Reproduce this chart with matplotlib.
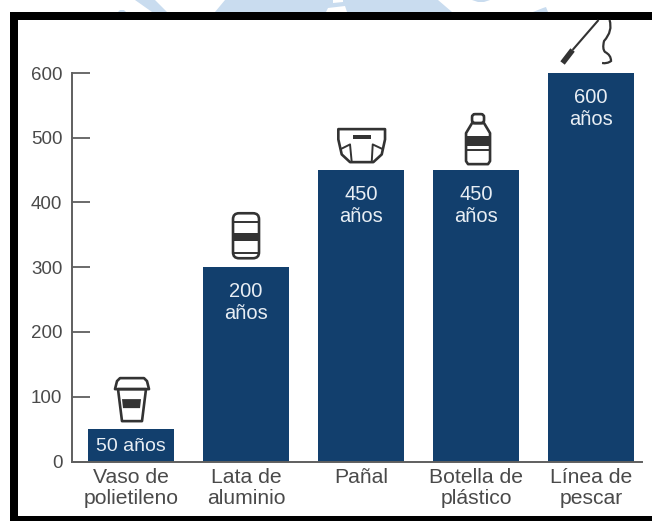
import matplotlib
matplotlib.use("Agg")
import matplotlib.pyplot as plt
from matplotlib.patches import Polygon, Rectangle, FancyBboxPatch, PathPatch
from matplotlib.path import Path
from matplotlib.transforms import Affine2D

plt.rcParams['font.family'] = ['Liberation Sans', 'DejaVu Sans']

W, H = 652, 521

categories = ["Vaso de\npolietileno", "Lata de\naluminio", "Pañal", "Botella de\nplástico", "Línea de\npescar"]
values = [50, 300, 450, 450, 600]
bar_labels = ["50 años", "200\naños", "450\naños", "450\naños", "600\naños"]
y_ticks = [0, 100, 200, 300, 400, 500, 600]

navy = "#123f6d"
grey = "#5f5f5f"
label_grey = "#4a4a4a"
icon_col = "#333333"
wm = "#c9dcef"

fig = plt.figure(figsize=(W / 100, H / 100), dpi=100)

# whole figure overlay in image pixels, y pointing down
bg = fig.add_axes([0, 0, 1, 1], zorder=0)
bg.set_xlim(0, W)
bg.set_ylim(H, 0)
bg.axis("off")

# watermark showing above the frame
bg.add_patch(Polygon([(135, 0), (155, 0), (167, 12), (152, 12)], color=wm, lw=0))
bg.add_patch(Polygon([(118, 12), (120, 10), (124, 10), (126, 12)], color=wm, lw=0))
bg.add_patch(Polygon([(225, 0), (438, 0), (452, 12), (215, 12)], color=wm, lw=0))
bg.add_patch(Polygon([(333, 0), (343, 0), (343, 2), (333, 3)], color="white", lw=0))
bg.add_patch(Polygon([(328, 8), (345, 6), (347, 12), (326, 12)], color="white", lw=0))
bg.add_patch(Polygon([(472, 0), (490, 0), (484, 2), (478, 2)], color=wm, lw=0))
bg.add_patch(Polygon([(533, 12), (543, 8), (546, 7), (548, 12)], color=wm, lw=0))

# black frame, open on the right
bg.add_patch(Rectangle((10, 12), W - 10, 8, color="black", lw=0))
bg.add_patch(Rectangle((10, 12), 8, H - 12, color="black", lw=0))
bg.add_patch(Rectangle((10, 516), W - 10, 5, color="black", lw=0))

ax = fig.add_axes([72 / W, 1 - 461.5 / H, (642 - 72) / W, (461.5 - 73) / H], zorder=1)
ax.patch.set_alpha(0)
ax.bar(range(5), values, width=0.748, color=navy)
ax.set_xlim(-0.513, 4.443)
ax.set_ylim(0, 600)
ax.set_yticks(y_ticks)
ax.set_xticks(range(5))
ax.set_xticklabels(categories, fontsize=15.2, color=label_grey, linespacing=1.08)
ax.tick_params(axis="x", length=0, pad=5)
ax.tick_params(axis="y", direction="in", length=13, width=1.3, color=grey,
               labelsize=13.5, labelcolor=label_grey, pad=7)
for s in ["top", "right"]:
    ax.spines[s].set_visible(False)
for s in ["left", "bottom"]:
    ax.spines[s].set_color(grey)
    ax.spines[s].set_linewidth(1.4)

for i, (v, t) in enumerate(zip(values, bar_labels)):
    if i == 0:
        ax.annotate(t, (i, v), xytext=(0, -6.5), textcoords="offset points", ha="center",
                    va="top", color="#e8eef4", fontsize=14)
    else:
        ax.annotate(t, (i, v), xytext=(0, -10.5), textcoords="offset points", ha="center",
                    va="top", color="#e8eef4", fontsize=14.5, linespacing=1.2)


def px(i):
    # icons are drawn in pixels from the middle of the bar top, y up
    x, y = ax.transData.transform((i, values[i]))
    return Affine2D().translate(x, y)


def outline(i, pts, lw=1.9, closed=True):
    fig.add_artist(Polygon(pts, closed=closed, fill=False, edgecolor=icon_col,
                           lw=lw, transform=px(i), joinstyle="round"))


def solid(i, pts):
    fig.add_artist(Polygon(pts, facecolor=icon_col, edgecolor="none", transform=px(i)))


def rounded(i, x, y, w, h, r):
    fig.add_artist(FancyBboxPatch((x, y), w, h, boxstyle=f"round,pad=0,rounding_size={r}",
                                  fill=False, edgecolor=icon_col, lw=1.9, transform=px(i)))


# cup
outline(0, [(-16, 40), (-14, 48), (-11, 51), (13, 51), (16, 48), (18, 40)])
outline(0, [(-13, 40), (-9, 8), (11, 8), (15, 40)])
solid(0, [(-9, 30), (-8, 21), (9, 21), (10, 30)])

# can
rounded(1, -13, 9, 26, 45, 6)
outline(1, [(-13, 45), (13, 45)], lw=1.4, closed=False)
outline(1, [(-13, 14), (13, 14)], lw=1.4, closed=False)
solid(1, [(-13, 34), (13, 34), (13, 26), (-13, 26)])

# nappy
outline(2, [(-22.7, 41), (24, 41), (24, 30.7), (20.7, 15.7), (12.3, 8), (-11, 8), (-19.3, 15.7), (-22.7, 30.7)])
outline(2, [(-21, 20.7), (-11, 25.7), (-9.3, 8)], lw=1.4, closed=False)
outline(2, [(22.3, 20.7), (11.7, 25.7), (10.7, 8)], lw=1.4, closed=False)
solid(2, [(-8, 35), (10, 35), (10, 31), (-8, 31)])

# bottle
rounded(3, -4, 47, 12, 9, 3)
outline(3, [(-4, 47), (-10, 37), (-10, 9), (-8, 6), (12, 6), (14, 9), (14, 37), (8, 47)])
solid(3, [(-10, 34), (14, 34), (14, 24), (-10, 24)])
outline(3, [(-10, 20), (14, 20)], lw=1.4, closed=False)

# fishing line and hook
outline(4, [(-18.5, 23), (7.5, 53)], lw=1.5, closed=False)
outline(4, [(-28.5, 10), (-18.5, 23)], lw=4, closed=False)
curve = Path([(18.5, 53), (22, 42), (13, 32), (11, 24), (14, 21), (20, 18), (20, 12), (16, 9), (11, 10)],
             [Path.MOVETO, Path.CURVE3, Path.CURVE3, Path.CURVE3, Path.CURVE3,
              Path.CURVE3, Path.CURVE3, Path.CURVE3, Path.CURVE3])
fig.add_artist(PathPatch(curve, fill=False, edgecolor=icon_col, lw=1.6, transform=px(4)))

fig.savefig("out.png", dpi=100)
